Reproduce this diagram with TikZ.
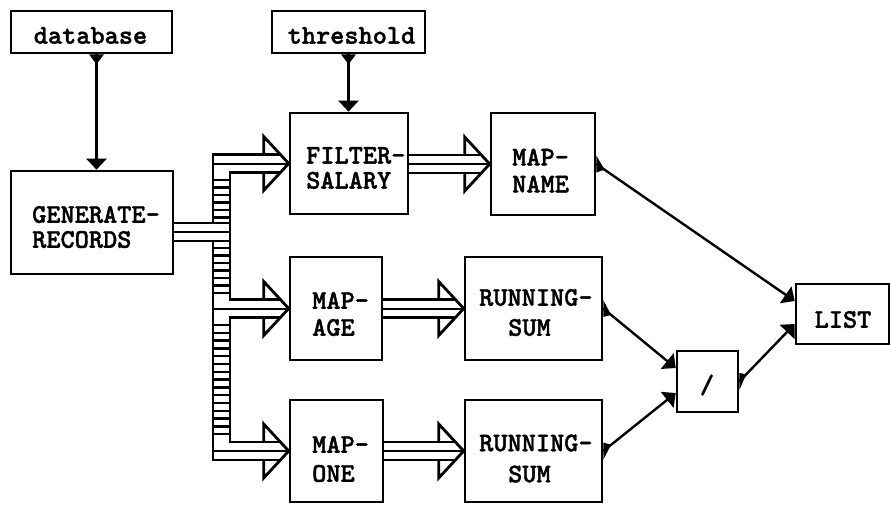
\documentclass[tikz,border=0pt]{standalone}
\usepackage{fontspec}
\newfontfamily\typewriter{lmmonolt10-bold}[Extension=.otf, FakeBold=1.3]
\usetikzlibrary{arrows.meta,calc}

\tikzset{
  block/.style={draw, line width=2.6pt, inner sep=0pt},
  lbl/.style={font=\typewriter\fontsize{27}{26}\selectfont, inner sep=0pt, align=left},
  flow/.style={line width=2.4pt, line join=miter, -{Triangle[width=20pt,length=11pt]}},
  streamedge/.style={line width=2.8pt, line join=miter, line cap=butt},
  streamcore/.style={line width=2pt},
  rung/.style={line width=2.4pt},
}

% hollow head of a record stream, tip at #1
\newcommand\streamhead[1]{%
  \draw[streamedge] let \p1=(#1) in
    (\x1-25pt,\y1+9pt) -- (\x1-25pt,\y1+27pt) -- (\x1,\y1)
      -- (\x1-25pt,\y1-27pt) -- (\x1-25pt,\y1-9pt);}

% triple-line record stream from #1 to the tip #2 (level of #2)
\newcommand\streamarrow[2]{%
  \draw[streamedge] let \p1=(#1), \p2=(#2) in
    (\x1,\y2+9pt) -- (\x2-8.33pt,\y2+9pt)
    (\x1,\y2-9pt) -- (\x2-8.33pt,\y2-9pt);
  \draw[streamcore] let \p1=(#1), \p2=(#2) in (\x1,\y2) -- (\x2,\y2);
  \streamhead{#2}}

% output port marks: base on a side edge / on a bottom edge, pointing to #2
\newcommand\sideport[2]{%
  \fill ($(#1)+(0,-8.5)$) -- ($(#1)!10pt!(#2)$) -- ($(#1)+(0,8.5)$) -- cycle;}
\newcommand\bottomport[2]{%
  \fill ($(#1)+(-7.5,0)$) -- ($(#1)!10pt!(#2)$) -- ($(#1)+(7.5,0)$) -- cycle;}

\begin{document}
\begin{tikzpicture}[x=1pt, y=-1pt]
\fill[white] (0,0) rectangle (890,504);
\useasboundingbox (0,0) rectangle (890,504);

% blocks
\node[block, minimum width=161pt, minimum height=42pt]  (db)  at (91.5,32)    {};
\node[block, minimum width=153pt, minimum height=42pt]  (th)  at (348.5,32)   {};
\node[block, minimum width=162pt, minimum height=103pt] (gen) at (92,222.5)   {};
\node[block, minimum width=118pt, minimum height=101pt] (fs)  at (349,163.5)  {};
\node[block, minimum width=104pt, minimum height=102pt] (mn)  at (543,164)    {};
\node[block, minimum width=92pt,  minimum height=103pt] (ma)  at (336,308.5)  {};
\node[block, minimum width=137pt, minimum height=103pt] (rs1) at (533.5,308.5){};
\node[block, minimum width=93pt,  minimum height=102pt] (mo)  at (336.5,451)  {};
\node[block, minimum width=137pt, minimum height=102pt] (rs2) at (533.5,451)  {};
\node[block, minimum width=61pt,  minimum height=61pt]  (dv)  at (707.5,381.5){};
\node[block, minimum width=93pt,  minimum height=60pt]  (lst) at (842.5,314)  {};

% labels
\node[lbl] (tdb) at (90.5,35.5) {database};
\node[lbl] (tth) at (351.5,35.5) {threshold};
\node[lbl, anchor=west] (tgen) at (32,227)    {GENERATE-\\[-1pt]RECORDS};
\node[lbl, anchor=west] (tfs)  at (306,168)   {FILTER-\\[-1pt]SALARY};
\node[lbl, anchor=west] (tmn)  at (512,170.5) {MAP-\\[1pt]NAME};
\node[lbl, anchor=west] (tma)  at (312,314)   {MAP-\\[1pt]AGE};
\node[lbl, anchor=west] (trs1) at (479,312.5) {RUNNING-\\[4pt]\hspace*{29pt}SUM};
\node[lbl, anchor=west] (tmo)  at (312,459)   {MAP-\\[3pt]ONE};
\node[lbl, anchor=west] (trs2) at (479,458.5) {RUNNING-\\[5pt]\hspace*{29pt}SUM};
\node[lbl] (tdv)  at (707,385)   {/};
\node[lbl] (tlst) at (843,319.5) {LIST};

% record streams between blocks
\streamarrow{fs.east}{mn.west}
\streamarrow{ma.east}{rs1.west}
\streamarrow{mo.east}{rs2.west}

% distribution bus fed by GENERATE-RECORDS
\coordinate (genout) at ($(gen.east)+(0,9.5)$);
\coordinate (busL) at (213,0);
\coordinate (busR) at (230,0);
\draw[streamedge] let \p1=(fs.west), \p2=(ma.west), \p3=(mo.west),
                      \p4=(genout), \p5=(busL), \p6=(busR) in
  (\x1-8.33pt,\y1+9pt) -- (\x5,\y1+9pt) -- (\x5,\y4+9pt)
  (\x4,\y4+9pt) -- (\x6,\y4+9pt)
  (\x4,\y4-9pt) -- (\x6,\y4-9pt)
  (\x5,\y4-9pt) -- (\x5,\y3-9pt) -- (\x3-8.33pt,\y3-9pt)
  (\x1-8.33pt,\y1-9pt) -- (\x6,\y1-9pt) -- (\x6,\y2+9pt) -- (\x2-8.33pt,\y2+9pt)
  (\x2-8.33pt,\y2-9pt) -- (\x6,\y2-9pt) -- (\x6,\y3+9pt) -- (\x3-8.33pt,\y3+9pt);
\draw[streamcore] let \p1=(fs.west), \p2=(ma.west), \p3=(mo.west),
                      \p4=(genout), \p5=(busL), \p6=(busR) in
  (\x5,\y1) -- (\x1,\y1)
  (\x5,\y2) -- (\x2,\y2)
  (\x5,\y3) -- (\x3,\y3)
  (\x4,\y4) -- (\x6,\y4);
\streamhead{fs.west}
\streamhead{ma.west}
\streamhead{mo.west}
% ladder rungs of the bus
\foreach \yy in {180,187.5,...,218} \draw[rung] (213,\yy) -- (230,\yy);
\foreach \yy in {248,255.5,...,294} \draw[rung] (213,\yy) -- (230,\yy);
\foreach \yy in {325,332.8,...,435} \draw[rung] (213,\yy) -- (230,\yy);

% single-value connections
\coordinate (dbout) at ($(db.south)+(5,0)$);
\coordinate (genin) at (dbout |- gen.north);
\coordinate (fsin)  at (th.south |- fs.north);
\coordinate (lstA)  at ($(lst.west)+(0,-13)$);
\coordinate (lstB)  at ($(lst.west)+(0,10)$);
\coordinate (dvA)   at ($(dv.west)+(0,-13.5)$);
\coordinate (dvB)   at ($(dv.west)+(0,11.5)$);

\draw[flow] (dbout) -- (genin);
\draw[flow] (th.south) -- (fsin);
\draw[flow] (mn.east) -- (lstA);
\draw[flow] (rs1.east) -- (dvA);
\draw[flow] (rs2.east) -- (dvB);
\draw[flow] (dv.east) -- (lstB);

\bottomport{dbout}{genin}
\bottomport{th.south}{fsin}
\sideport{mn.east}{lstA}
\sideport{rs1.east}{dvA}
\sideport{rs2.east}{dvB}
\sideport{dv.east}{lstB}
\end{tikzpicture}
\end{document}
